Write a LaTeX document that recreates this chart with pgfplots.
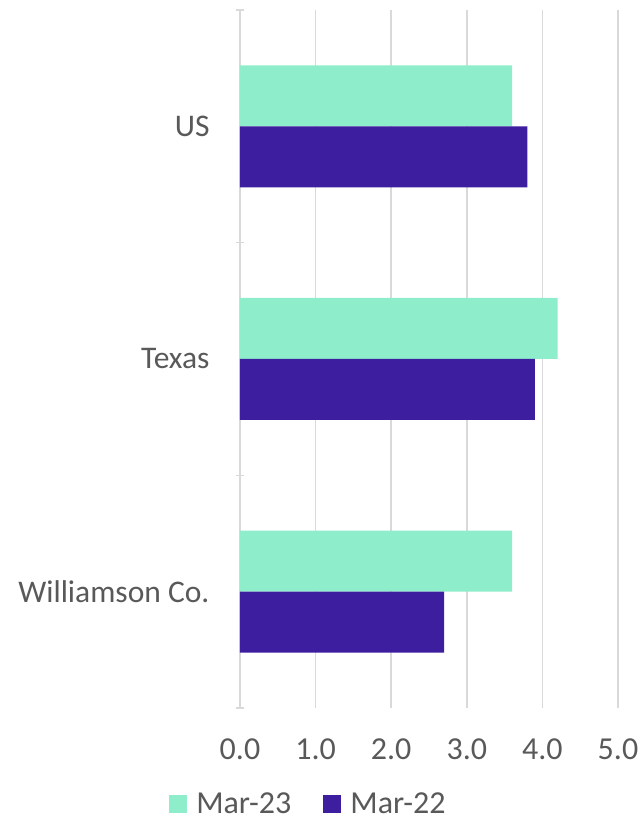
\documentclass[border=0pt]{standalone}
\usepackage{pgfplots}
\pgfplotsset{compat=1.18}
\usepackage{fontspec}
\setmainfont{Carlito}
\definecolor{mint}{HTML}{8EEDCB}
\definecolor{purp}{HTML}{3C1E9E}
\definecolor{txt}{HTML}{595959}
\definecolor{grd}{HTML}{D9D9D9}
\begin{document}
\begin{tikzpicture}[x=1pt,y=1pt]
\useasboundingbox (0,0) rectangle (641,820);
\begin{axis}[
  at={(240pt,112pt)}, anchor=south west,
  scale only axis, width=378pt, height=698pt,
  xmin=0, xmax=5, ymin=-0.5, ymax=2.5,
  xtick={0,1,2,3,4,5},
  /pgf/number format/fixed, /pgf/number format/fixed zerofill,
  /pgf/number format/precision=1, /pgf/number format/assume math mode=true,
  xticklabel style={font=\fontsize{32}{36}\selectfont, text=txt, yshift=-27pt},
  ytick={0,1,2}, yticklabels={Williamson Co.,Texas,US},
  yticklabel style={font=\fontsize{31.5}{36}\selectfont, text=txt, xshift=-27pt},
  major tick length=0pt,
  minor ytick={-0.5,0.5,1.5,2.5},
  minor tick length=8pt,
  tick align=outside,
  y tick style={draw=grd, line width=1.5pt},
  x tick style={draw=none},
  axis x line=bottom, axis y line=left,
  x axis line style={draw=none},
  y axis line style={draw=grd, line width=1.5pt, -},
  xmajorgrids, major grid style={draw=grd, line width=1.5pt},
  legend style={at={(0.181,-0.137)}, anchor=center, draw=none, fill=none,
    legend columns=2, font=\fontsize{32}{36}\selectfont, text=txt,
    /tikz/every even column/.append style={column sep=30pt}},
  legend image code/.code={\fill[#1] (0pt,-9pt) rectangle (18pt,9pt); \path (25pt,0pt);},
]
\addplot[xbar, bar width=61pt, bar shift=30.5pt, fill=mint, draw=none]
  coordinates {(3.6,0) (4.2,1) (3.6,2)};
\addlegendentry{Mar-23}
\addplot[xbar, bar width=61pt, bar shift=-30.5pt, fill=purp, draw=none]
  coordinates {(2.7,0) (3.9,1) (3.8,2)};
\addlegendentry{Mar-22}
\end{axis}
\end{tikzpicture}
\end{document}
